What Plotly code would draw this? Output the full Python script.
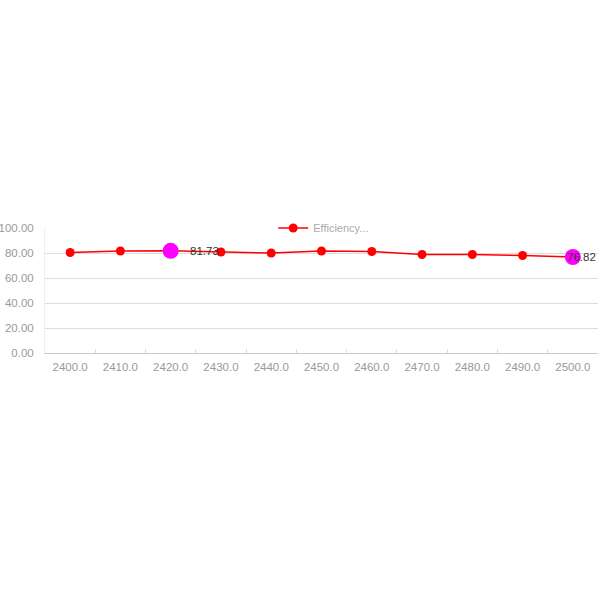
import plotly.graph_objects as go

categories = ["2400.0", "2410.0", "2420.0", "2430.0", "2440.0", "2450.0",
              "2460.0", "2470.0", "2480.0", "2490.0", "2500.0"]
efficiency = [80.4, 81.6, 81.73, 80.8, 80.0, 81.6, 81.2, 78.8, 78.8, 78.0, 76.82]
highlight_idx = [2, 10]
highlight_labels = ["81.73", "76.82"]
label_shifts = [17, -8]

fig = go.Figure()
fig.add_trace(go.Scatter(
    x=categories, y=efficiency, mode="lines+markers", name="Efficiency...",
    line=dict(color="#ff0000", width=1.5),
    marker=dict(color="#ff0000", size=9),
    cliponaxis=False,
))
fig.add_trace(go.Scatter(
    x=[categories[i] for i in highlight_idx],
    y=[efficiency[i] for i in highlight_idx],
    mode="markers", showlegend=False,
    marker=dict(color="#ff00ff", size=16),
    cliponaxis=False,
))
for i, lab, sh in zip(highlight_idx, highlight_labels, label_shifts):
    # category axis: position annotation by category index
    fig.add_annotation(x=i, y=efficiency[i], text=lab, showarrow=False,
                       xanchor="left", xshift=sh, yshift=0,
                       font=dict(size=11.5, color="#333333", family="Liberation Sans"))

fig.update_layout(
    width=600, height=600,
    margin=dict(l=45, r=2, t=228, b=247),
    paper_bgcolor="white", plot_bgcolor="white",
    font=dict(family="Liberation Sans", size=12, color="#999999"),
    showlegend=True,
    legend=dict(x=0.504, xanchor="center", y=1.0, yanchor="middle",
                orientation="h", bgcolor="white",
                font=dict(size=11, color="#aaaaaa"), itemwidth=30),
    xaxis=dict(type="category", range=[-0.5, len(categories) - 0.5],
               showgrid=False, showline=True, linecolor="#cccccc",
               linewidth=1, ticks="inside", tickson="boundaries", ticklen=4,
               tickcolor="#dddddd", tickfont=dict(size=11.5, color="#999999"),
               ticklabelstandoff=3,
               tickangle=0, automargin=False, fixedrange=True),
    yaxis=dict(range=[0, 100], dtick=20, tickformat=".2f", showgrid=True,
               gridcolor="#dddddd", showline=True, linecolor="#eeeeee",
               zeroline=False, tickfont=dict(size=11.5, color="#999999"),
               ticks="", ticklabelstandoff=8, automargin=False, fixedrange=True),
)

fig.write_html("out.html", config={"displayModeBar": False},
               post_script="document.body.style.margin='0';")
